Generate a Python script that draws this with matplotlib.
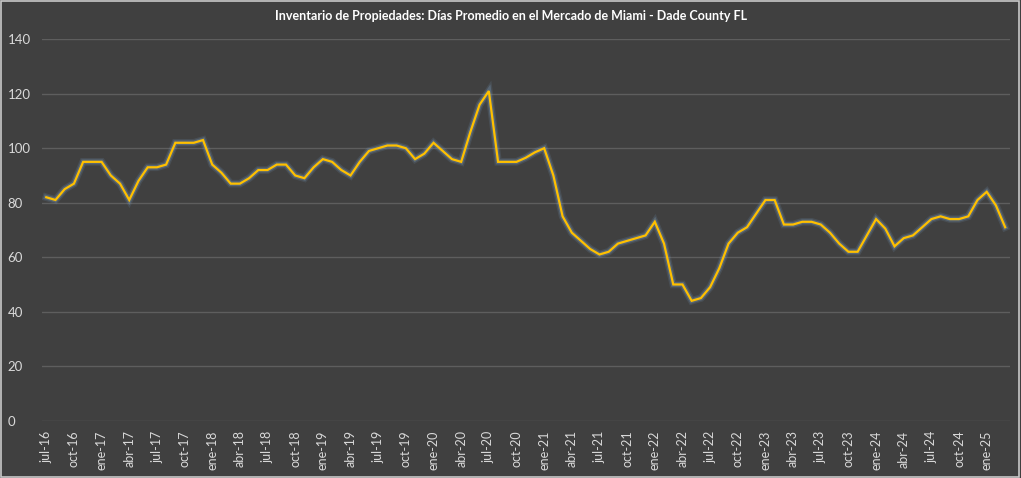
import matplotlib
matplotlib.use("Agg")
import matplotlib.pyplot as plt
import matplotlib.patheffects as pe
from matplotlib.patches import Rectangle

# Monthly values jul-2016 .. mar-2025
y2016 = [82, 81, 85, 87, 95, 95]
y2017 = [95, 90, 87, 81, 88, 93, 93, 94, 102, 102, 102, 103]
y2018 = [94, 91, 87, 87, 89, 92, 92, 94, 94, 90, 89, 93]
y2019 = [96, 95, 92, 90, 95, 99, 100, 101, 101, 100, 96, 98]
y2020 = [102, 99, 96, 95, 106, 116, 121, 95, 95, 95, 96.5, 98.5]
y2021 = [100, 90, 75, 69, 66, 63, 61, 62, 65, 66, 67, 68]
y2022 = [73, 65, 50, 50, 44, 45, 49, 56, 65, 69, 71, 76]
y2023 = [81, 81, 72, 72, 73, 73, 72, 69, 65, 62, 62, 68]
y2024 = [74, 70.5, 64, 67, 68, 71, 74, 75, 74, 74, 75, 81]
y2025 = [84, 79, 71]
values = y2016 + y2017 + y2018 + y2019 + y2020 + y2021 + y2022 + y2023 + y2024 + y2025

tick_labels = ["jul-16", "oct-16",
               "ene-17", "abr-17", "jul-17", "oct-17",
               "ene-18", "abr-18", "jul-18", "oct-18",
               "ene-19", "abr-19", "jul-19", "oct-19",
               "ene-20", "abr-20", "jul-20", "oct-20",
               "ene-21", "abr-21", "jul-21", "oct-21",
               "ene-22", "abr-22", "jul-22", "oct-22",
               "ene-23", "abr-23", "jul-23", "oct-23",
               "ene-24", "abr-24", "jul-24", "oct-24",
               "ene-25"]
title = "Inventario de Propiedades: Días Promedio en el Mercado de Miami - Dade County FL"

bg = "#404040"
plt.rcParams["font.family"] = ["Lato", "DejaVu Sans"]

fig = plt.figure(figsize=(10.21, 4.78), dpi=100, facecolor=bg)
ax = fig.add_axes([0.0408, 0.1199, 0.9482, 0.798])
ax.set_facecolor(bg)

x = list(range(len(values)))
ax.plot(x, values, color="#FFC000", lw=1.6, solid_joinstyle="miter",
        path_effects=[pe.Stroke(linewidth=5.5, foreground="#6f8fb0", alpha=0.18),
                      pe.Stroke(linewidth=3.5, foreground="#7fa0c0", alpha=0.3),
                      pe.Normal()], zorder=3)

ax.set_xlim(-0.5, len(values) - 0.5)
ax.set_ylim(0, 140)
ax.set_yticks(range(0, 141, 20))
ax.grid(axis="y", color="#5e5e5e", lw=1.0, zorder=0)
ax.set_xticks(range(0, len(values), 3))
ax.set_xticklabels(tick_labels, rotation=90)
ax.tick_params(axis="x", length=0, pad=7, labelsize=9, colors="#d9d9d9")
ax.tick_params(axis="y", length=0, pad=24.5, labelsize=9.5, colors="#d9d9d9")
for lab in ax.get_yticklabels():
    lab.set_horizontalalignment("left")
for s in ax.spines.values():
    s.set_visible(False)

fig.text(0.5, 0.966, title, ha="center", va="center", color="white",
         fontsize=9, fontweight="bold")

fig.patches.append(Rectangle((0.001, 0.002), 0.997, 0.996, transform=fig.transFigure,
                             fill=False, edgecolor="#c8c8c8", lw=1.2))

fig.savefig("out.png", dpi=100, facecolor=bg)
